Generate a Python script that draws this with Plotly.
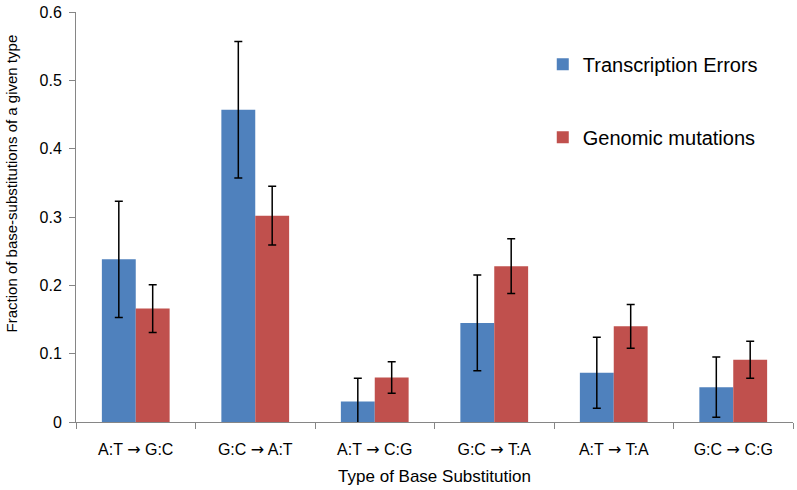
import plotly.graph_objects as go

categories = ["A:T → G:C", "G:C → A:T", "A:T → C:G", "G:C → T:A", "A:T → T:A", "G:C → C:G"]
transcription_errors = [0.238, 0.457, 0.030, 0.145, 0.072, 0.051]
transcription_err = [0.085, 0.100, 0.034, 0.070, 0.052, 0.044]
genomic_mutations = [0.166, 0.302, 0.065, 0.228, 0.140, 0.091]
genomic_err = [0.035, 0.043, 0.023, 0.040, 0.032, 0.027]
y_ticks = [0, 0.1, 0.2, 0.3, 0.4, 0.5, 0.6]
y_tick_labels = ["0", "0.1", "0.2", "0.3", "0.4", "0.5", "0.6"]

FONT = "Liberation Sans, Arial, sans-serif"
ARROW = '<span style="font-family:DejaVu Sans">→</span>'
x_tick_text = [c.replace("→", ARROW) for c in categories]

fig = go.Figure()
fig.add_trace(go.Bar(
    name="Transcription Errors", x=categories, y=transcription_errors,
    marker=dict(color="#4F81BD", line=dict(width=0)),
    error_y=dict(type="data", array=transcription_err, color="black", thickness=1.5, width=4),
    legendgroup="a",
))
fig.add_trace(go.Bar(
    name="Genomic mutations", x=categories, y=genomic_mutations,
    marker=dict(color="#C0504D", line=dict(width=0)),
    error_y=dict(type="data", array=genomic_err, color="black", thickness=1.5, width=4),
    legendgroup="b",
))

fig.update_layout(
    width=797, height=490,
    margin=dict(l=76, r=4, t=9, b=68),
    paper_bgcolor="white", plot_bgcolor="white",
    barmode="group", bargap=0.433, bargroupgap=0,
    font=dict(family=FONT, size=16, color="black"),
    legend=dict(
        x=0.651, y=0.92, xanchor="left", yanchor="top",
        font=dict(family=FONT, size=20, color="black"),
        tracegroupgap=44, bgcolor="rgba(0,0,0,0)",
    ),
    xaxis=dict(
        tickmode="array", tickvals=categories, ticktext=x_tick_text,
        showline=True, linecolor="#868686", linewidth=1,
        ticks="outside", tickson="boundaries", ticklen=6, tickcolor="#868686",
        ticklabelstandoff=13,
        showgrid=False,
        tickfont=dict(family=FONT, size=16, color="black"),
        title=dict(text="Type of Base Substitution", font=dict(family=FONT, size=17, color="black"), standoff=11),
    ),
    yaxis=dict(
        range=[0, 0.6], tickvals=y_ticks, ticktext=y_tick_labels,
        showline=True, linecolor="#868686", linewidth=1,
        ticks="outside", ticklen=6, tickcolor="#868686",
        ticklabelstandoff=4,
        showgrid=False, zeroline=False,
        tickfont=dict(family=FONT, size=16, color="black"),
    ),
    annotations=[dict(
        text="Fraction of base-substitutions of a given type",
        textangle=-90, xref="paper", yref="paper",
        x=-0.09, y=0.583, xanchor="center", yanchor="middle",
        showarrow=False, font=dict(family=FONT, size=15, color="black"),
    )],
)

fig.write_html("out.html", config={"displayModeBar": False},
               post_script="document.body.style.margin='0';")
